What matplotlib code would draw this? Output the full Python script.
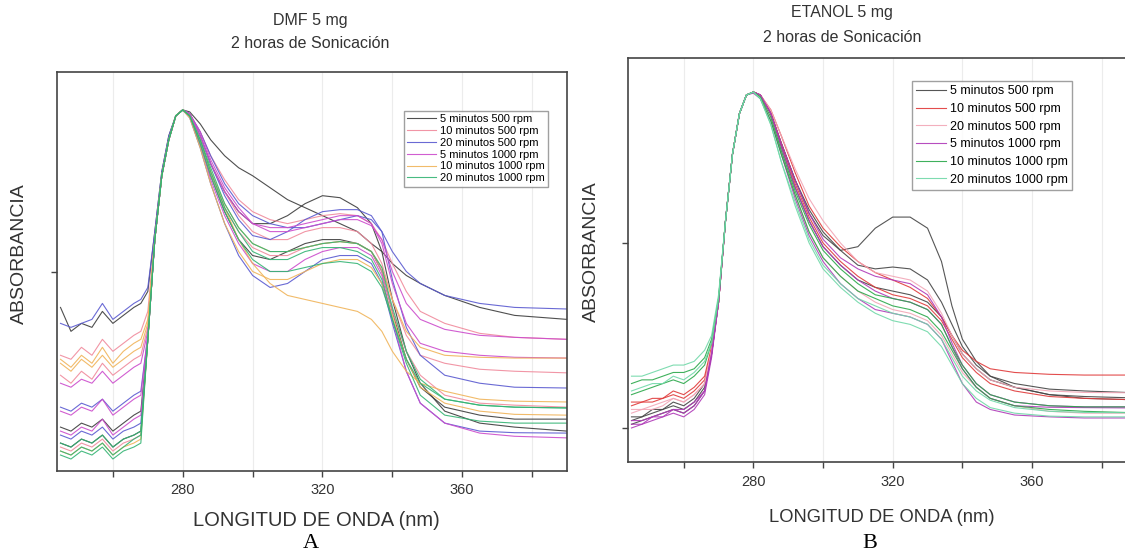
import matplotlib
matplotlib.use("Agg")
import matplotlib.pyplot as plt
from matplotlib.ticker import FixedLocator, NullFormatter

plt.rcParams['font.family'] = ['Liberation Sans', 'DejaVu Sans']

# wavelength grid (nm)
wl = [245, 248, 251, 254, 257, 260, 263, 266, 268, 270, 272, 274, 276, 278, 280, 282, 285, 288,
      292, 296, 300, 305, 310, 315, 320, 325, 330, 334, 337, 340, 344, 348, 355, 365, 375, 390]

labels = ["5 minutos 500 rpm", "10 minutos 500 rpm", "20 minutos 500 rpm",
          "5 minutos 1000 rpm", "10 minutos 1000 rpm", "20 minutos 1000 rpm"]

# ---- panel A : DMF 5 mg (replicate spectra per condition) ----
dmf_5m_500 = [
    [0.41, 0.35, 0.37, 0.36, 0.40, 0.37, 0.39, 0.41, 0.42, 0.45, 0.60, 0.75, 0.84, 0.89, 0.905, 0.90, 0.87, 0.83,
     0.79, 0.76, 0.74, 0.71, 0.68, 0.66, 0.64, 0.62, 0.60, 0.57, 0.55, 0.52, 0.49, 0.47, 0.44, 0.41, 0.39, 0.38],
    [0.07, 0.06, 0.08, 0.07, 0.09, 0.06, 0.08, 0.09, 0.10, 0.33, 0.58, 0.74, 0.83, 0.89, 0.905, 0.895, 0.84, 0.77,
     0.70, 0.65, 0.62, 0.62, 0.64, 0.67, 0.69, 0.685, 0.66, 0.62, 0.55, 0.43, 0.30, 0.22, 0.15, 0.12, 0.11, 0.10],
    [0.11, 0.10, 0.12, 0.11, 0.13, 0.10, 0.12, 0.14, 0.15, 0.33, 0.58, 0.74, 0.83, 0.89, 0.905, 0.89, 0.82, 0.74,
     0.65, 0.58, 0.54, 0.53, 0.55, 0.57, 0.58, 0.58, 0.57, 0.55, 0.50, 0.40, 0.28, 0.21, 0.16, 0.14, 0.13, 0.13],
]
dmf_10m_500 = [
    [0.29, 0.28, 0.31, 0.29, 0.33, 0.30, 0.32, 0.34, 0.35, 0.40, 0.59, 0.74, 0.83, 0.89, 0.905, 0.895, 0.85, 0.79,
     0.73, 0.68, 0.65, 0.63, 0.62, 0.63, 0.64, 0.645, 0.64, 0.62, 0.58, 0.52, 0.45, 0.40, 0.37, 0.345, 0.335, 0.33],
    [0.06, 0.05, 0.07, 0.06, 0.08, 0.05, 0.07, 0.08, 0.09, 0.33, 0.58, 0.74, 0.83, 0.89, 0.905, 0.89, 0.82, 0.74,
     0.66, 0.60, 0.56, 0.54, 0.54, 0.56, 0.57, 0.575, 0.57, 0.55, 0.50, 0.40, 0.30, 0.24, 0.19, 0.17, 0.165, 0.16],
    [0.24, 0.22, 0.25, 0.23, 0.27, 0.24, 0.26, 0.28, 0.29, 0.36, 0.58, 0.74, 0.83, 0.89, 0.905, 0.895, 0.84, 0.77,
     0.70, 0.64, 0.60, 0.58, 0.58, 0.60, 0.61, 0.61, 0.60, 0.57, 0.52, 0.43, 0.34, 0.29, 0.27, 0.255, 0.25, 0.246],
]
dmf_20m_500 = [
    [0.37, 0.36, 0.37, 0.38, 0.42, 0.38, 0.40, 0.42, 0.43, 0.46, 0.60, 0.75, 0.84, 0.89, 0.905, 0.895, 0.85, 0.79,
     0.72, 0.67, 0.64, 0.62, 0.61, 0.61, 0.62, 0.63, 0.64, 0.63, 0.60, 0.55, 0.50, 0.47, 0.44, 0.42, 0.41, 0.406],
    [0.16, 0.15, 0.17, 0.16, 0.18, 0.15, 0.17, 0.19, 0.20, 0.34, 0.58, 0.74, 0.83, 0.89, 0.905, 0.895, 0.84, 0.77,
     0.69, 0.63, 0.59, 0.58, 0.60, 0.63, 0.65, 0.655, 0.655, 0.64, 0.60, 0.48, 0.36, 0.29, 0.24, 0.22, 0.21, 0.208],
    [0.09, 0.08, 0.10, 0.09, 0.11, 0.08, 0.10, 0.11, 0.12, 0.33, 0.58, 0.74, 0.83, 0.89, 0.905, 0.885, 0.81, 0.72,
     0.62, 0.54, 0.49, 0.46, 0.47, 0.50, 0.53, 0.54, 0.54, 0.52, 0.47, 0.37, 0.25, 0.17, 0.12, 0.10, 0.096, 0.095],
]
dmf_5m_1000 = [
    [0.15, 0.14, 0.16, 0.15, 0.18, 0.14, 0.16, 0.18, 0.19, 0.34, 0.58, 0.74, 0.83, 0.89, 0.905, 0.895, 0.85, 0.78,
     0.71, 0.66, 0.62, 0.60, 0.60, 0.61, 0.62, 0.63, 0.63, 0.615, 0.58, 0.50, 0.42, 0.38, 0.355, 0.34, 0.335, 0.33],
    [0.10, 0.09, 0.11, 0.10, 0.13, 0.09, 0.11, 0.13, 0.14, 0.33, 0.58, 0.74, 0.83, 0.89, 0.905, 0.89, 0.82, 0.73,
     0.64, 0.57, 0.52, 0.50, 0.50, 0.53, 0.55, 0.56, 0.56, 0.54, 0.49, 0.38, 0.25, 0.17, 0.12, 0.095, 0.087, 0.083],
    [0.22, 0.21, 0.23, 0.22, 0.25, 0.22, 0.24, 0.26, 0.27, 0.35, 0.58, 0.74, 0.83, 0.89, 0.905, 0.895, 0.84, 0.77,
     0.70, 0.65, 0.62, 0.61, 0.61, 0.62, 0.63, 0.64, 0.64, 0.62, 0.57, 0.47, 0.37, 0.32, 0.30, 0.29, 0.285, 0.283],
]
dmf_10m_1000 = [
    [0.28, 0.26, 0.29, 0.27, 0.31, 0.27, 0.30, 0.32, 0.33, 0.38, 0.58, 0.74, 0.83, 0.89, 0.905, 0.89, 0.83, 0.75,
     0.66, 0.58, 0.52, 0.47, 0.44, 0.43, 0.42, 0.41, 0.40, 0.38, 0.35, 0.30, 0.25, 0.22, 0.20, 0.18, 0.175, 0.173],
    [0.05, 0.04, 0.06, 0.05, 0.07, 0.04, 0.06, 0.07, 0.08, 0.33, 0.58, 0.74, 0.83, 0.89, 0.905, 0.885, 0.81, 0.72,
     0.62, 0.55, 0.50, 0.48, 0.48, 0.50, 0.52, 0.53, 0.53, 0.51, 0.47, 0.39, 0.28, 0.21, 0.17, 0.15, 0.142, 0.14],
    [0.27, 0.25, 0.28, 0.26, 0.29, 0.26, 0.28, 0.30, 0.31, 0.37, 0.58, 0.74, 0.83, 0.89, 0.905, 0.89, 0.83, 0.75,
     0.67, 0.61, 0.57, 0.55, 0.55, 0.56, 0.57, 0.575, 0.57, 0.55, 0.51, 0.43, 0.35, 0.31, 0.29, 0.285, 0.283, 0.283],
]
dmf_20m_1000 = [
    [0.04, 0.03, 0.05, 0.04, 0.06, 0.03, 0.05, 0.06, 0.07, 0.33, 0.58, 0.74, 0.83, 0.89, 0.905, 0.89, 0.82, 0.74,
     0.65, 0.58, 0.53, 0.50, 0.50, 0.51, 0.52, 0.525, 0.52, 0.50, 0.46, 0.38, 0.28, 0.22, 0.18, 0.165, 0.16, 0.158],
    [0.05, 0.04, 0.06, 0.05, 0.07, 0.04, 0.06, 0.08, 0.09, 0.33, 0.58, 0.74, 0.83, 0.89, 0.905, 0.89, 0.83, 0.75,
     0.66, 0.60, 0.55, 0.53, 0.53, 0.55, 0.56, 0.56, 0.55, 0.53, 0.48, 0.38, 0.27, 0.19, 0.14, 0.125, 0.12, 0.12],
    [0.07, 0.06, 0.08, 0.07, 0.09, 0.06, 0.08, 0.09, 0.10, 0.33, 0.58, 0.74, 0.83, 0.89, 0.905, 0.89, 0.83, 0.76,
     0.67, 0.61, 0.57, 0.55, 0.55, 0.56, 0.57, 0.575, 0.57, 0.55, 0.51, 0.41, 0.30, 0.23, 0.18, 0.165, 0.16, 0.158],
]

# ---- panel B : ETANOL 5 mg ----
eta_5m_500 = [
    [0.01, 0.02, 0.03, 0.04, 0.05, 0.04, 0.06, 0.10, 0.20, 0.34, 0.56, 0.74, 0.85, 0.90, 0.908, 0.90, 0.85, 0.77,
     0.67, 0.58, 0.52, 0.48, 0.49, 0.54, 0.57, 0.57, 0.54, 0.45, 0.33, 0.24, 0.18, 0.14, 0.11, 0.09, 0.08, 0.076],
    [0.03, 0.03, 0.05, 0.05, 0.07, 0.06, 0.08, 0.12, 0.21, 0.34, 0.56, 0.74, 0.85, 0.90, 0.908, 0.90, 0.85, 0.77,
     0.67, 0.59, 0.53, 0.48, 0.44, 0.43, 0.435, 0.43, 0.40, 0.34, 0.28, 0.22, 0.17, 0.14, 0.12, 0.105, 0.10, 0.095],
    [0.02, 0.03, 0.04, 0.05, 0.06, 0.05, 0.07, 0.11, 0.20, 0.34, 0.56, 0.74, 0.85, 0.90, 0.908, 0.90, 0.85, 0.76,
     0.65, 0.56, 0.49, 0.44, 0.40, 0.38, 0.37, 0.36, 0.34, 0.30, 0.25, 0.20, 0.16, 0.13, 0.11, 0.09, 0.085, 0.081],
]
eta_10m_500 = [
    [0.06, 0.07, 0.07, 0.08, 0.09, 0.08, 0.10, 0.13, 0.21, 0.34, 0.56, 0.74, 0.85, 0.90, 0.908, 0.90, 0.86, 0.79,
     0.69, 0.60, 0.54, 0.49, 0.45, 0.42, 0.40, 0.38, 0.35, 0.30, 0.25, 0.21, 0.18, 0.16, 0.15, 0.145, 0.143, 0.143],
    [0.07, 0.07, 0.08, 0.08, 0.10, 0.09, 0.11, 0.14, 0.22, 0.34, 0.56, 0.74, 0.85, 0.90, 0.908, 0.90, 0.85, 0.77,
     0.66, 0.57, 0.50, 0.45, 0.41, 0.38, 0.36, 0.35, 0.33, 0.29, 0.24, 0.19, 0.15, 0.12, 0.10, 0.085, 0.08, 0.076],
]
eta_20m_500 = [
    [0.04, 0.05, 0.05, 0.06, 0.08, 0.07, 0.09, 0.12, 0.21, 0.34, 0.56, 0.74, 0.85, 0.90, 0.908, 0.90, 0.86, 0.79,
     0.70, 0.62, 0.56, 0.50, 0.45, 0.42, 0.41, 0.40, 0.37, 0.31, 0.25, 0.20, 0.16, 0.13, 0.11, 0.10, 0.096, 0.095],
    [0.05, 0.05, 0.06, 0.07, 0.08, 0.07, 0.09, 0.12, 0.21, 0.34, 0.56, 0.74, 0.85, 0.90, 0.908, 0.895, 0.84, 0.75,
     0.63, 0.53, 0.46, 0.41, 0.37, 0.34, 0.32, 0.31, 0.29, 0.25, 0.20, 0.15, 0.11, 0.08, 0.06, 0.045, 0.04, 0.04],
]
eta_5m_1000 = [
    [0.00, 0.01, 0.02, 0.03, 0.04, 0.03, 0.05, 0.09, 0.19, 0.34, 0.56, 0.74, 0.85, 0.90, 0.908, 0.90, 0.85, 0.77,
     0.67, 0.58, 0.51, 0.46, 0.43, 0.41, 0.40, 0.39, 0.36, 0.30, 0.23, 0.17, 0.12, 0.09, 0.07, 0.06, 0.057, 0.057],
    [0.01, 0.01, 0.03, 0.03, 0.05, 0.04, 0.06, 0.10, 0.20, 0.34, 0.56, 0.74, 0.85, 0.90, 0.908, 0.90, 0.85, 0.76,
     0.65, 0.56, 0.49, 0.44, 0.40, 0.37, 0.35, 0.34, 0.32, 0.28, 0.22, 0.16, 0.11, 0.08, 0.06, 0.056, 0.055, 0.054],
    [0.02, 0.02, 0.03, 0.04, 0.05, 0.05, 0.07, 0.10, 0.20, 0.34, 0.56, 0.74, 0.85, 0.90, 0.905, 0.89, 0.83, 0.74,
     0.62, 0.52, 0.45, 0.39, 0.35, 0.32, 0.31, 0.30, 0.28, 0.24, 0.18, 0.12, 0.07, 0.05, 0.035, 0.03, 0.027, 0.027],
]
eta_10m_1000 = [
    [0.12, 0.13, 0.13, 0.14, 0.15, 0.15, 0.16, 0.19, 0.24, 0.35, 0.56, 0.74, 0.85, 0.90, 0.908, 0.89, 0.83, 0.74,
     0.63, 0.53, 0.46, 0.41, 0.37, 0.35, 0.33, 0.32, 0.30, 0.26, 0.21, 0.16, 0.11, 0.08, 0.06, 0.05, 0.045, 0.041],
    [0.09, 0.10, 0.11, 0.12, 0.13, 0.12, 0.14, 0.17, 0.23, 0.35, 0.56, 0.74, 0.85, 0.90, 0.908, 0.895, 0.84, 0.75,
     0.64, 0.55, 0.48, 0.43, 0.39, 0.36, 0.35, 0.34, 0.32, 0.28, 0.22, 0.17, 0.12, 0.09, 0.07, 0.06, 0.057, 0.057],
]
eta_20m_1000 = [
    [0.14, 0.14, 0.15, 0.16, 0.17, 0.17, 0.18, 0.21, 0.25, 0.36, 0.56, 0.74, 0.85, 0.90, 0.908, 0.89, 0.82, 0.72,
     0.61, 0.51, 0.44, 0.39, 0.35, 0.33, 0.31, 0.30, 0.28, 0.24, 0.19, 0.14, 0.10, 0.075, 0.055, 0.045, 0.042, 0.041],
    [0.10, 0.11, 0.12, 0.12, 0.14, 0.13, 0.15, 0.18, 0.23, 0.35, 0.56, 0.74, 0.85, 0.90, 0.908, 0.89, 0.82, 0.72,
     0.60, 0.50, 0.43, 0.38, 0.34, 0.31, 0.29, 0.28, 0.26, 0.22, 0.17, 0.12, 0.08, 0.055, 0.04, 0.032, 0.03, 0.03],
]

colors_a = ['#3c3c3c', '#f08a9c', '#5a5ad0', '#cc4ccc', '#f0b45a', '#34b474']
colors_b = ['#444444', '#e03a3a', '#f2a6b6', '#b03ab8', '#2aa84a', '#70d8a8']

W, H = 1125, 559
fig = plt.figure(figsize=(W / 100, H / 100), dpi=100)


def px(x0, y0, x1, y1):
    # axes rectangle from pixel box
    return [x0 / W, 1 - y1 / H, (x1 - x0) / W, (y1 - y0) / H]


def style_axes(ax, yticks):
    ax.xaxis.set_major_locator(FixedLocator([280, 320, 360]))
    ax.xaxis.set_minor_locator(FixedLocator([260, 300, 340, 380]))
    ax.yaxis.set_major_locator(FixedLocator(yticks))
    ax.yaxis.set_major_formatter(NullFormatter())
    ax.tick_params(axis='x', which='both', direction='out', length=4, width=1, colors='#444444',
                   labelsize=10.5, labelcolor='#333333', pad=5)
    ax.tick_params(axis='y', direction='out', length=4, width=1, colors='#444444')
    ax.grid(True, axis='x', which='both', color='#ececec', lw=0.8)
    for s in ax.spines.values():
        s.set_color('#444444')
        s.set_linewidth(1.2)


def draw(ax, groups, colors):
    for grp, col, lab in zip(groups, colors, labels):
        for i, y in enumerate(grp):
            ax.plot(wl, y, color=col, lw=0.8, alpha=0.9, label=lab if i == 0 else None)


# panel A
axA = fig.add_axes(px(57, 72, 567, 471))
draw(axA, [dmf_5m_500, dmf_10m_500, dmf_20m_500, dmf_5m_1000, dmf_10m_1000, dmf_20m_1000], colors_a)
axA.set_xlim(244, 390)
axA.set_ylim(0, 1.0)
style_axes(axA, [0.5])
axA.legend(loc='upper left', bbox_to_anchor=(404 / W, 1 - 111 / H), bbox_transform=fig.transFigure,
           fontsize=8, frameon=True, fancybox=False, edgecolor='#888888', handlelength=2.6,
           handletextpad=0.3, labelspacing=0.16, borderpad=0.3, borderaxespad=0)

# panel B (runs past the right edge of the figure)
axB = fig.add_axes(px(628, 58, 1140, 462))
draw(axB, [eta_5m_500, eta_10m_500, eta_20m_500, eta_5m_1000, eta_10m_1000, eta_20m_1000], colors_b)
axB.set_xlim(244, 391)
axB.set_ylim(-0.092, 1.0)
style_axes(axB, [0.0, 0.5])
axB.legend(loc='upper left', bbox_to_anchor=(912 / W, 1 - 81 / H), bbox_transform=fig.transFigure,
           fontsize=9, frameon=True, fancybox=False, edgecolor='#888888', handlelength=2.4,
           handletextpad=0.3, labelspacing=0.45, borderpad=0.35, borderaxespad=0)

txt = '#333333'
# titles
fig.text(310 / W, 1 - 20 / H, "DMF 5 mg", ha='center', va='center', fontsize=11.5, color=txt)
fig.text(310 / W, 1 - 43 / H, "2 horas de Sonicación", ha='center', va='center', fontsize=11.5, color=txt)
fig.text(842 / W, 1 - 13 / H, "ETANOL 5 mg", ha='center', va='center', fontsize=11.5, color=txt)
fig.text(842 / W, 1 - 37 / H, "2 horas de Sonicación", ha='center', va='center', fontsize=11.5, color=txt)

# axis labels
fig.text(19 / W, 1 - 254 / H, "ABSORBANCIA", rotation=90, ha='center', va='center', fontsize=14, color=txt)
fig.text(591 / W, 1 - 252 / H, "ABSORBANCIA", rotation=90, ha='center', va='center', fontsize=14, color=txt)
fig.text(316 / W, 1 - 521 / H, "LONGITUD DE ONDA (nm)", ha='center', va='center', fontsize=14.5, color=txt)
fig.text(882 / W, 1 - 518 / H, "LONGITUD DE ONDA (nm)", ha='center', va='center', fontsize=13.2, color=txt)

# panel letters
fig.text(311 / W, 1 - 543 / H, "A", ha='center', va='center', fontsize=16, family='Liberation Serif', color='black')
fig.text(870 / W, 1 - 543 / H, "B", ha='center', va='center', fontsize=16, family='Liberation Serif', color='black')

fig.savefig("out.png", dpi=100)
